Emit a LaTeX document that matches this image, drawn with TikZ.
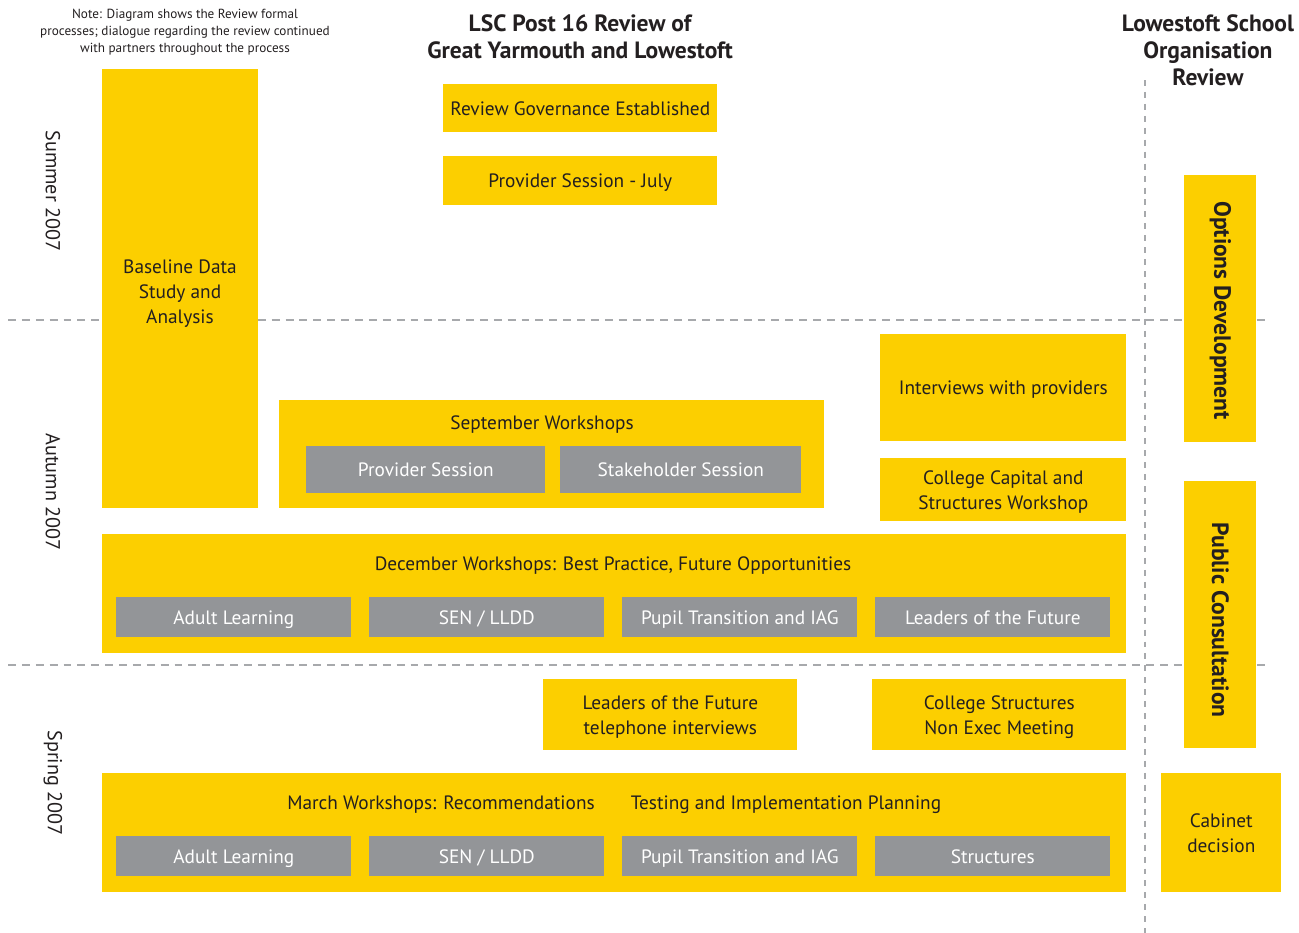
\documentclass[tikz,border=0pt]{standalone}
\usepackage{fontspec}
\setmainfont{PT Sans}
\usepackage{tikz}
\usetikzlibrary{positioning}
\definecolor{lscyellow}{HTML}{FCCF00}
\definecolor{lscgray}{HTML}{939598}
\definecolor{lsctext}{HTML}{231F20}
\definecolor{rulegray}{HTML}{A7A9AC}
\tikzset{
  phase/.style={fill=lscyellow, text=lsctext, align=center, inner sep=0pt, text depth=0pt,
    anchor=north west, font=\fontsize{11}{14.2}\selectfont},
  task/.style={phase, fill=lscgray, text=white, minimum width=4.7cm, minimum height=0.8cm},
  caption/.style={text=lsctext, align=center, font=\fontsize{11}{14.2}\selectfont},
  heading/.style={text=lsctext, align=center, font=\bfseries\fontsize{13.4}{15.3}\selectfont},
  season/.style={text=lsctext, rotate=-90, font=\fontsize{11.5}{14.2}\selectfont},
  stream/.style={season, font=\bfseries\fontsize{13.4}{15.3}\selectfont},
  divider/.style={draw=rulegray, line width=1.6pt, dash pattern=on 4.5pt off 3.4pt},
  track/.style={draw=rulegray, line width=1.6pt, dash pattern=on 3.4pt off 3.4pt}
}

\begin{document}
\begin{tikzpicture}[x=0.02cm, y=-0.02cm]
  \clip (0,0) rectangle (1299,933);
  \fill[white] (0,0) rectangle (1299,933);

  % term dividers and the split between the two reviews
  \coordinate (summerend-w) at (8,320);
  \coordinate (summerend-e) at (1270,320);
  \coordinate (autumnend-w) at (8,665);
  \coordinate (autumnend-e) at (1270,665);
  \coordinate (split-n) at (1145,80);
  \coordinate (split-s) at (1145,935);
  \draw[divider] (summerend-w) -- (summerend-e);
  \draw[divider] (autumnend-w) -- (autumnend-e);
  \draw[track] (split-n) -- (split-s);

  % headings
  \node[text=lsctext, align=center, font=\fontsize{7.5}{9.6}\selectfont] (note) at (185,32)
    {Note: Diagram shows the Review formal\\processes; dialogue regarding the review continued\\with partners throughout the process};
  \node[heading] (lsctitle) at (580,37) {LSC Post 16 Review of\\Great Yarmouth and Lowestoft};
  \node[heading] (schooltitle) at (1208,50) {Lowestoft School\\Organisation\\Review};

  \node[season] (summer) at (53,191) {Summer 2007};
  \node[season] (autumn) at (53,492) {Autumn 2007};
  \node[season] (spring) at (53,783) {Spring 2007};

  % summer
  \node[phase, minimum width=3.12cm, minimum height=8.78cm] (baseline) at (102,69) {};
  \node[caption] (baselinetext) at (180,294) {Baseline Data\\Study and\\Analysis};
  \node[phase, minimum width=5.48cm, minimum height=0.96cm] (governance) at (443,84)
    {Review Governance Established};
  \node[phase, minimum width=5.48cm, minimum height=0.98cm] (julysession) at (443,156)
    {Provider Session - July};

  % autumn
  \node[phase, minimum width=4.92cm, minimum height=2.14cm] (interviews) at (880,334)
    {Interviews with providers};
  \node[phase, minimum width=4.92cm, minimum height=1.26cm] (capital) at (880,458)
    {College Capital and\\Structures Workshop};

  \node[phase, minimum width=10.9cm, minimum height=2.16cm] (september) at (279,400) {};
  \node[caption] (septitle) at (542,425) {September Workshops};
  \node[task, minimum width=4.78cm, minimum height=0.94cm] (sepprovider) at (306,446) {Provider Session};
  \node[task, minimum width=4.82cm, minimum height=0.94cm] (sepstake) at (560,446) {Stakeholder Session};

  \node[phase, minimum width=20.48cm, minimum height=2.38cm] (december) at (102,534) {};
  \node[caption] (dectitle) at (613,566)
    {December Workshops: Best Practice, Future Opportunities};
  \node[task] (decadult) at (116,597) {Adult Learning};
  \node[task] (decsen) at (369,597) {SEN / LLDD};
  \node[task] (decpupil) at (622,597) {Pupil Transition and IAG};
  \node[task] (decleaders) at (875,597) {Leaders of the Future};

  % spring
  \node[phase, minimum width=5.08cm, minimum height=1.42cm] (phoneleaders) at (543,679)
    {Leaders of the Future\\telephone interviews};
  \node[phase, minimum width=5.08cm, minimum height=1.42cm] (nonexec) at (872,679)
    {College Structures\\Non Exec Meeting};

  \node[phase, minimum width=20.48cm, minimum height=2.38cm] (march) at (102,773) {};
  \node[caption] (martitle) at (441,805) {March Workshops: Recommendations};
  \node[caption] (testing) at (786,805) {Testing and Implementation Planning};
  \node[task] (maradult) at (116,836) {Adult Learning};
  \node[task] (marsen) at (369,836) {SEN / LLDD};
  \node[task] (marpupil) at (622,836) {Pupil Transition and IAG};
  \node[task] (marstruct) at (875,836) {Structures};

  % school organisation review
  \node[phase, minimum width=1.44cm, minimum height=5.34cm] (options) at (1184,175) {};
  \node[stream] (optionstext) at ([yshift=-1pt]options.center) {Options Development};
  \node[phase, minimum width=1.44cm, minimum height=5.34cm] (public) at (1184,481) {};
  \node[stream] (publictext) at ([yshift=-3pt]public.center) {Public Consultation};
  \node[phase, minimum width=2.4cm, minimum height=2.38cm] (cabinet) at (1161,773)
    {Cabinet\\decision};
\end{tikzpicture}
\end{document}
